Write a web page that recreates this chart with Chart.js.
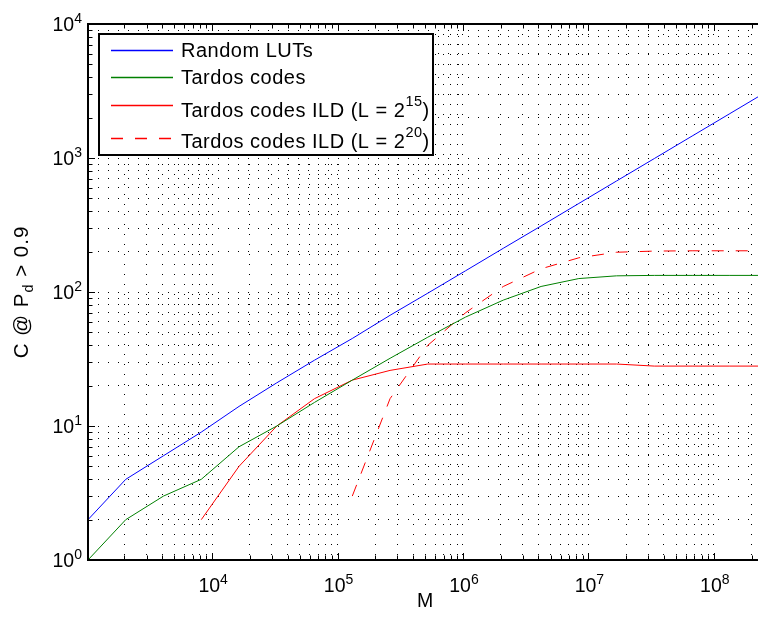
<!DOCTYPE html>
<html>
<head>
<meta charset="utf-8">
<script src="https://cdn.jsdelivr.net/npm/chart.js@4.4.1/dist/chart.umd.min.js"></script>
<style>
  html, body { margin: 0; padding: 0; background: #fff; }
  canvas { display: block; }
</style>
</head>
<body>
<canvas id="chart" width="758" height="617"></canvas>
<script>
// ── Dados: M = 2^10 ... 2^28 ─────────────────────────────────
const M_VALUES = [1024, 2048, 4096, 8192, 16384, 32768, 65536, 131072, 262144, 524288,
  1048576, 2097152, 4194304, 8388608, 16777216, 33554432, 67108864, 134217728, 268435456];

const RANDOM_LUTS  = [2, 4, 6, 9, 14, 21, 31, 45, 67, 98, 144, 212, 311, 458, 674, 991, 1458, 2144, 3155];
const TARDOS       = [1, 2, 3, 4, 7, 10, 15, 22, 32, 46, 65, 87, 110, 126, 132, 133, 133, 133, 133];
const TARDOS_ILD15 = [null, null, null, 2, 5, 10, 16, 22, 26, 29, 29, 29, 29, 29, 29, 28, 28, 28, 28];
const TARDOS_ILD20 = [null, null, null, null, null, null, null, 3, 16, 40, 70, 110, 149, 180, 198, 202, 203, 203, 203];

const SERIES_LABELS = [
  ['Random LUTs'],
  ['Tardos codes'],
  ['Tardos codes ILD (L = 2', '15', ')'],
  ['Tardos codes ILD (L = 2', '20', ')'],
];

const X_MIN = 1024, X_MAX = 2.25e8;
const Y_MIN = 1, Y_MAX = 1e4;
const X_LABEL_EXPS = [4, 5, 6, 7, 8];
const Y_LABEL_EXPS = [0, 1, 2, 3, 4];
const X_TITLE = 'M';
const Y_TITLE = ['C @ P', 'd', ' > 0.9'];

const FONT = '"Liberation Sans", Arial, Helvetica, sans-serif';

// grade log: 1..9 × 10^e dentro do intervalo
function logGrid(min, max) {
  const out = [];
  for (let e = Math.floor(Math.log10(min)); e <= Math.ceil(Math.log10(max)); e++) {
    for (let m = 1; m <= 9; m++) {
      const v = m * Math.pow(10, e);
      if (v > min * 1.001 && v < max * 0.999) out.push(v);
    }
  }
  return out;
}
const X_GRID = logGrid(X_MIN, X_MAX);
const Y_GRID = logGrid(Y_MIN, Y_MAX);

const pts = arr => M_VALUES.map((m, i) => ({ x: m, y: arr[i] })).filter(p => p.y !== null);

// texto com expoente
function drawSup(ctx, x, y, base, sup, size, supSize, raise, align) {
  ctx.font = size + 'px ' + FONT;
  const wb = ctx.measureText(base).width;
  ctx.font = supSize + 'px ' + FONT;
  const ws = sup ? ctx.measureText(sup).width : 0;
  let x0 = x;
  if (align === 'center') x0 = x - (wb + ws) / 2;
  else if (align === 'right') x0 = x - wb - ws;
  ctx.textAlign = 'left';
  ctx.textBaseline = 'alphabetic';
  ctx.font = size + 'px ' + FONT;
  ctx.fillText(base, x0, y);
  if (sup) {
    ctx.font = supSize + 'px ' + FONT;
    ctx.fillText(sup, x0 + wb, y - raise);
  }
  return x0 + wb + ws;
}

// ── Eixos estilo MATLAB: moldura, ticks, rótulos, legenda ─────
const matlabAxes = {
  id: 'matlabAxes',
  afterDraw(chart) {
    const { ctx, chartArea: a, scales: { x, y } } = chart;
    const isMajor = v => Math.abs(Math.log10(v) - Math.round(Math.log10(v))) < 1e-9;
    ctx.save();
    ctx.fillStyle = '#000';
    ctx.strokeStyle = '#000';

    // ticks
    ctx.lineWidth = 1;
    X_GRID.forEach(v => {
      const px = Math.round(x.getPixelForValue(v)) + 0.5;
      const len = isMajor(v) ? 7 : 4.5;
      ctx.beginPath();
      ctx.moveTo(px, a.bottom); ctx.lineTo(px, a.bottom - len);
      ctx.moveTo(px, a.top); ctx.lineTo(px, a.top + len);
      ctx.stroke();
    });
    Y_GRID.forEach(v => {
      const py = Math.round(y.getPixelForValue(v)) + 0.5;
      const len = isMajor(v) ? 7 : 4.5;
      ctx.beginPath();
      ctx.moveTo(a.left, py); ctx.lineTo(a.left + len, py);
      ctx.stroke();
    });

    // moldura
    ctx.lineWidth = 2;
    ctx.beginPath();
    ctx.moveTo(a.right + 2, a.top); ctx.lineTo(a.left, a.top);
    ctx.lineTo(a.left, a.bottom); ctx.lineTo(a.right + 2, a.bottom);
    ctx.stroke();

    // rótulos dos ticks
    X_LABEL_EXPS.forEach(e => {
      const px = x.getPixelForValue(Math.pow(10, e));
      drawSup(ctx, px + 1, a.bottom + 32, '10', String(e), 19.5, 14, 8, 'center');
    });
    Y_LABEL_EXPS.forEach(e => {
      const py = y.getPixelForValue(Math.pow(10, e));
      drawSup(ctx, a.left - 6, py + 7, '10', String(e), 19.5, 14, 8.5, 'right');
    });

    // títulos
    ctx.font = '19.5px ' + FONT;
    ctx.textAlign = 'center';
    ctx.fillText(X_TITLE, (a.left + a.right) / 2 + 2, a.bottom + 47);

    ctx.save();
    ctx.translate(21, (a.top + a.bottom) / 2);
    ctx.rotate(-Math.PI / 2);
    ctx.letterSpacing = '1px';
    ctx.font = '20.5px ' + FONT;
    const w1 = ctx.measureText(Y_TITLE[0]).width;
    const w3 = ctx.measureText(Y_TITLE[2]).width;
    ctx.font = '14.5px ' + FONT;
    const w2 = ctx.measureText(Y_TITLE[1]).width;
    const tx = -(w1 + w2 + w3) / 2;
    ctx.textAlign = 'left';
    ctx.font = '20.5px ' + FONT;
    ctx.fillText(Y_TITLE[0], tx, 7);
    ctx.font = '14.5px ' + FONT;
    ctx.fillText(Y_TITLE[1], tx + w1, 12);
    ctx.font = '20.5px ' + FONT;
    ctx.fillText(Y_TITLE[2], tx + w1 + w2, 7);
    ctx.restore();

    // legenda
    const L = { x: 99, y: 34, w: 334, h: 121 };
    ctx.fillStyle = '#fff';
    ctx.fillRect(L.x, L.y, L.w, L.h);
    ctx.lineWidth = 2;
    ctx.strokeRect(L.x, L.y, L.w, L.h);
    const rowLine = [50, 77, 105, 138];
    const rowText = [57, 84, 117, 148];
    ctx.letterSpacing = '0.5px';
    chart.data.datasets.forEach((ds, i) => {
      ctx.save();
      ctx.strokeStyle = ds.borderColor;
      ctx.lineWidth = 1.5;
      ctx.setLineDash(ds.borderDash || []);
      ctx.beginPath();
      ctx.moveTo(111, rowLine[i] + 0.5); ctx.lineTo(173, rowLine[i] + 0.5);
      ctx.stroke();
      ctx.restore();
      ctx.fillStyle = '#000';
      const parts = SERIES_LABELS[i];
      const end = drawSup(ctx, 181, rowText[i], parts[0], parts[1], 20, 14.5, 11.5, 'left');
      if (parts[2]) {
        ctx.font = '20px ' + FONT;
        ctx.fillText(parts[2], end, rowText[i]);
      }
    });
    ctx.restore();
  },
};

const line = (arr, color, dash) => ({
  data: pts(arr),
  borderColor: color,
  borderWidth: 1,
  borderDash: dash,
  pointRadius: 0,
  fill: false,
  tension: 0,
});

new Chart(document.getElementById('chart'), {
  type: 'line',
  data: {
    datasets: [
      line(RANDOM_LUTS, '#0000ff', []),
      line(TARDOS, '#008000', []),
      line(TARDOS_ILD15, '#ff0000', []),
      line(TARDOS_ILD20, '#ff0000', [12, 12]),
    ],
  },
  options: {
    responsive: false,
    animation: false,
    devicePixelRatio: 1,
    layout: { padding: { left: 88, top: 24, right: 0, bottom: 57 } },
    plugins: { legend: { display: false }, tooltip: { enabled: false } },
    scales: {
      x: {
        type: 'logarithmic', min: X_MIN, max: X_MAX,
        afterBuildTicks: s => { s.ticks = X_GRID.map(v => ({ value: v })); },
        ticks: { display: false },
        grid: { color: '#000', lineWidth: 1, drawTicks: false },
        border: { display: false, dash: [1, 9] },
      },
      y: {
        type: 'logarithmic', min: Y_MIN, max: Y_MAX,
        afterBuildTicks: s => { s.ticks = Y_GRID.map(v => ({ value: v })); },
        ticks: { display: false },
        grid: { color: '#000', lineWidth: 1, drawTicks: false },
        border: { display: false, dash: [1, 9] },
      },
    },
  },
  plugins: [matlabAxes],
});
</script>
</body>
</html>
